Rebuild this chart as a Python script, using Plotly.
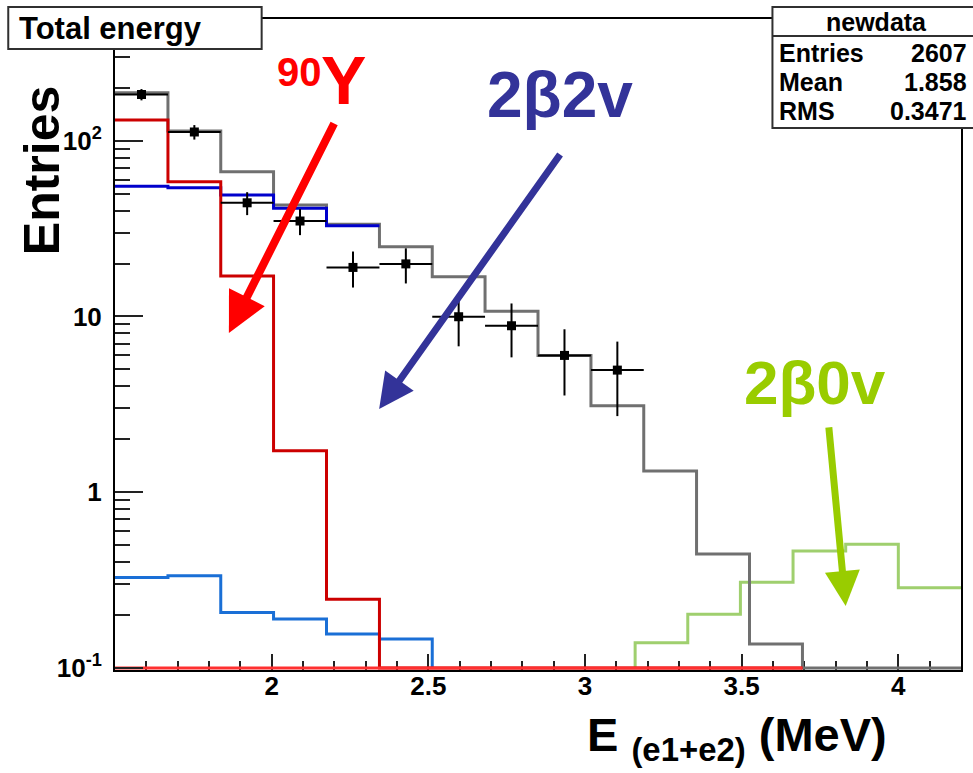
import plotly.graph_objects as go

# ---------------- data ----------------
bin_edges = [1.5, 1.669, 1.8375, 2.006, 2.175, 2.344, 2.5125, 2.681, 2.85,
             3.019, 3.1875, 3.356, 3.525, 3.694, 3.8625, 4.031, 4.2]
total_mc = [187, 113.5, 66.5, 43.0, 33.4, 24.9, 16.8, 10.7, 6.0, 3.1,
            1.32, 0.445, 0.137, 0, 0, 0]
y90 = [131, 58.4, 17.0, 1.72, 0.246, 0, 0, 0, 0, 0, 0, 0, 0]
bb2nu = [55, 54, 49, 41.2, 32.8]
bkg_blue = [0.327, 0.335, 0.207, 0.19, 0.156, 0.146]
bkg_red = [0, 0, 0, 0, 0, 0, 0, 0, 0, 0, 0, 0, 0]
bb0nu_edges = [3.16, 3.328, 3.496, 3.664, 3.832, 4.0, 4.2]
bb0nu = [0.139, 0.202, 0.307, 0.463, 0.505, 0.286]
data_vals = [183, 112, 44.3, 34.9, 19.0, 19.9, 9.96, 8.85, 6.0, 4.95]
data_err = [13.5, 10.6, 6.6, 5.9, 4.4, 4.5, 3.2, 3.0, 2.45, 2.24]

xtick_vals = [2, 2.5, 3, 3.5, 4]
xtick_text = ["2", "2.5", "3", "3.5", "4"]
ytick_vals = [0.1, 1, 10, 100]
ytick_text = ["10<sup>-1</sup>", "1", "10", "10<sup>2</sup>"]

stats_labels = ["Entries", "Mean", "RMS"]
stats_values = ["2607", "1.858", "0.3471"]

FLOOR = 0.1
FONT = "Liberation Sans, Arial, Helvetica, sans-serif"

# ---------------- geometry helpers (pixel -> paper) ----------------
W, H = 973, 773
PL, PR, PT, PB = 115, 963, 19, 670


def px_x(x):
    return (x - PL) / (PR - PL)


def px_y(y):
    return (PB - y) / (PB - PT)


def step_path(edges, vals, start_vertical=False, end_vertical=True):
    xs, ys = [], []
    if start_vertical:
        xs.append(edges[0]); ys.append(FLOOR)
    for i, v in enumerate(vals):
        v = max(v, FLOOR)
        xs += [edges[i], edges[i + 1]]
        ys += [v, v]
    if end_vertical:
        xs.append(edges[len(vals)]); ys.append(FLOOR)
    return xs, ys


fig = go.Figure()


def add_hist(edges, vals, color, width=3, **kw):
    xs, ys = step_path(edges, vals, **kw)
    fig.add_trace(go.Scatter(x=xs, y=ys, mode="lines",
                             line=dict(color=color, width=width),
                             hoverinfo="skip", showlegend=False))


add_hist(bb0nu_edges, bb0nu, "#9fcf6e", start_vertical=True, end_vertical=False)
add_hist(bin_edges, bkg_blue, "#1a6fd6")
add_hist(bin_edges, total_mc, "#707070", end_vertical=False)
add_hist(bin_edges, bb2nu, "#0000cc", end_vertical=False)
add_hist(bin_edges, y90, "#cc0000")
add_hist(bin_edges, bkg_red, "#ff3030", end_vertical=False)

centers = [(bin_edges[i] + bin_edges[i + 1]) / 2 for i in range(len(data_vals))]
half_w = [(bin_edges[i + 1] - bin_edges[i]) / 2 for i in range(len(data_vals))]
fig.add_trace(go.Scatter(
    x=centers, y=data_vals, mode="markers",
    marker=dict(symbol="square", size=9, color="black"),
    error_y=dict(type="data", array=data_err, color="black", thickness=2, width=0),
    error_x=dict(type="data", array=half_w, color="black", thickness=2, width=0),
    showlegend=False, hoverinfo="skip"))

ann = []


def arrow(x, ylog, ax, ay, color, width):
    ann.append(dict(x=x, y=ylog, xref="x", yref="y", ax=ax, ay=ay, text="",
                    showarrow=True, arrowhead=2, arrowsize=1.0,
                    arrowwidth=width, arrowcolor=color, standoff=0, startstandoff=0))


arrow(1.8635, 0.906, 106, -211, "#ff0000", 8)
arrow(2.343, 0.473, 182, -256, "#333399", 7)
arrow(3.832, -0.647, -17, -180, "#99cc00", 7)


def label(text, xpx, ypx, size, color, xanchor="center", yanchor="middle", **kw):
    d = dict(text=text, x=px_x(xpx), y=px_y(ypx), xref="paper", yref="paper",
             xanchor=xanchor, yanchor=yanchor, showarrow=False,
             font=dict(family=FONT, size=size, color=color, weight="bold"))
    d.update(kw)
    ann.append(d)


label("90", 300, 72, 40, "#ff0000")
label("Y", 344, 80, 68, "#ff0000")
label("2β2v", 561, 95, 64, "#333399")
label("2β0v", 817, 383, 62, "#99cc00")

# axis titles
label("Entries", 42, 170, 50, "black", textangle=-90)
label("E <sub>(e1+e2)</sub> (MeV)", 891, 738, 47, "black", xanchor="right")

# title box
label("Total energy", 17, 28, 31, "black", xanchor="left")
# stats box
label("newdata", 878, 22, 25, "black")
for i, (lab, val) in enumerate(zip(stats_labels, stats_values)):
    label(lab, 779, 52.5 + 29 * i, 25, "black", xanchor="left")
    label(val, 971, 52.5 + 29 * i, 25, "black", xanchor="right")

shapes = [
    dict(type="rect", xref="paper", yref="paper", x0=px_x(8), x1=px_x(262),
         y0=px_y(49), y1=px_y(7), line=dict(color="#303030", width=2),
         fillcolor="white", layer="above"),
    dict(type="rect", xref="paper", yref="paper", x0=px_x(774), x1=px_x(990),
         y0=px_y(128), y1=px_y(7), line=dict(color="#303030", width=2),
         fillcolor="white", layer="above"),
    dict(type="line", xref="paper", yref="paper", x0=px_x(774), x1=px_x(990),
         y0=px_y(36), y1=px_y(36), line=dict(color="#303030", width=2),
         layer="above"),
]

yminor = [m * d for d in (0.1, 1, 10) for m in range(2, 10)] + [200, 300, 400]

fig.update_layout(
    width=W, height=H, autosize=False,
    margin=dict(l=PL, r=W - PR, t=PT, b=H - PB, pad=0),
    paper_bgcolor="white", plot_bgcolor="white",
    font=dict(family=FONT, color="black"),
    showlegend=False,
    annotations=ann, shapes=shapes,
    xaxis=dict(range=[1.5, 4.2], showgrid=False, zeroline=False,
               showline=True, linecolor="black", linewidth=2, mirror=True,
               ticks="inside", ticklen=16, tickwidth=2, tickcolor="#222",
               tickmode="array", tickvals=xtick_vals, ticktext=xtick_text,
               layer="below traces",
               minor=dict(ticks="inside", ticklen=9, tickwidth=2, tickcolor="#222",
                          dtick=0.1, tick0=0, showgrid=False),
               tickfont=dict(family=FONT, size=26, weight="bold"),
               ticklabelstandoff=-8),
    yaxis=dict(type="log", range=[-1.0114, 2.692], showgrid=False, zeroline=False,
               showline=True, linecolor="black", linewidth=2, mirror=True,
               ticks="inside", ticklen=28, tickwidth=2, tickcolor="#222",
               tickmode="array", tickvals=ytick_vals, ticktext=ytick_text,
               minor=dict(ticks="inside", ticklen=15, tickwidth=2, tickcolor="#222",
                          tickmode="array", tickvals=yminor, showgrid=False),
               tickfont=dict(family=FONT, size=26, weight="bold"),
               ticklabelstandoff=6),
)

fig.write_html("out.html", config={"displayModeBar": False})
